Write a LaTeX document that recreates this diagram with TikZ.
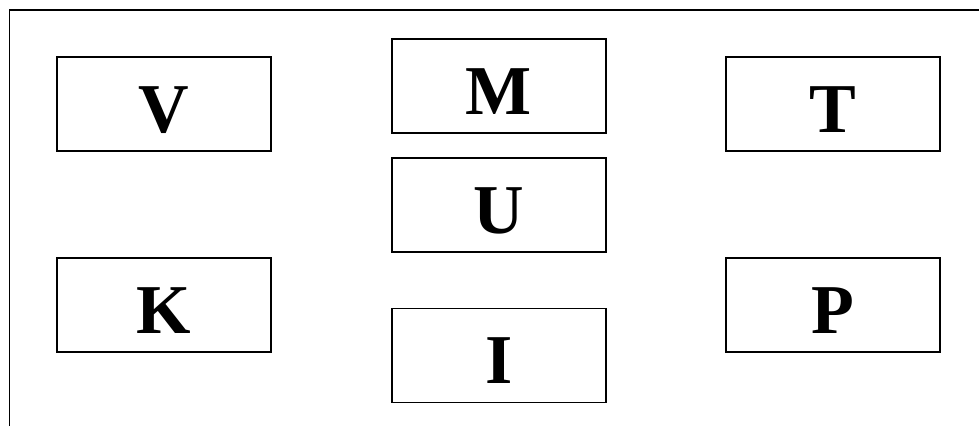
\documentclass[tikz,border=0pt]{standalone}
\usepackage{fontspec}
\setmainfont{Liberation Serif}
\begin{document}
\begin{tikzpicture}[
  x=1pt, y=-1pt,
  lbox/.style={rectangle, draw=black, line width=1.4pt, minimum width=214pt, minimum height=94pt,
    inner sep=0pt, text height=56pt, text depth=0pt, font=\fontsize{70}{70}\selectfont\bfseries},
  frame/.style={line width=1.5pt, draw=black}
]
  \useasboundingbox (0,0) rectangle (979,426);

  % Marco (solo lados superior e izquierdo visibles)
  \coordinate (fa) at (9.5,426);
  \coordinate (fb) at (9.5,10);
  \coordinate (fc) at (979,10);
  \draw[frame] (fa) -- (fb) -- (fc);

  % Cajas de la columna izquierda
  \node[lbox] (bv) at (164,104) {V};
  \node[lbox] (bk) at (164,305) {K};

  % Cajas de la columna central
  \node[lbox] (bm) at (499,86) {M};
  \node[lbox] (bu) at (499,205) {U};
  \node[lbox] (bi) at (499,355.5) {I};

  % Cajas de la columna derecha
  \node[lbox] (bt) at (833,104) {T};
  \node[lbox] (bp) at (833,305) {P};
\end{tikzpicture}
\end{document}
